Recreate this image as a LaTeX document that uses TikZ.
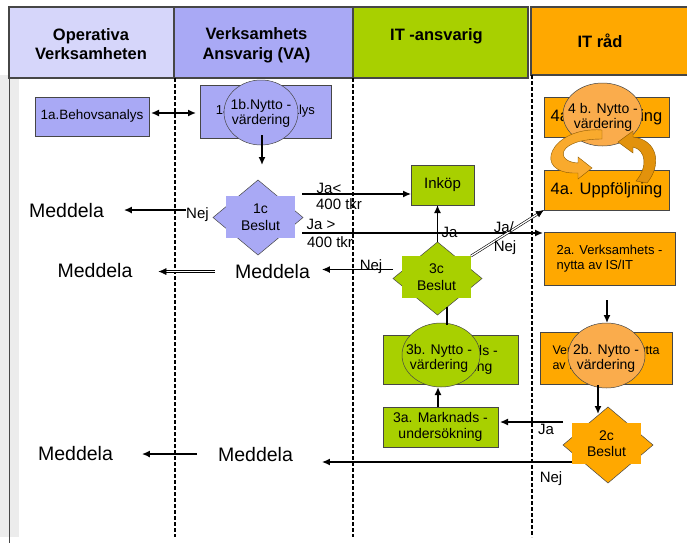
\documentclass[tikz,border=0pt]{standalone}
\usepackage{fontspec}
\setmainfont{Liberation Sans}
\usetikzlibrary{arrows.meta,shapes.geometric,shadows,calc}
\newcommand\fsz[2]{\fontsize{#1}{#2}\selectfont}

\definecolor{lavlight}{RGB}{214,214,250}
\definecolor{lav}{RGB}{169,169,245}
\definecolor{itgreen}{RGB}{168,208,0}
\definecolor{itorange}{RGB}{255,168,0}
\definecolor{lightorange}{RGB}{250,172,76}
\definecolor{stripgray}{RGB}{236,236,236}
\definecolor{edge}{RGB}{70,70,70}
\definecolor{loopL}{RGB}{249,170,45}
\definecolor{loopR}{RGB}{226,146,12}
\definecolor{loopedge}{RGB}{140,90,0}

\begin{document}
\begin{tikzpicture}[x=1pt,y=-1pt,
  every node/.style={inner sep=0pt, outer sep=0pt},
  head/.style={draw=edge, line width=1.2pt},
  htext/.style={font=\bfseries\fsz{16.5}{19.5}, align=center},
  box/.style={draw=edge, line width=.8pt, align=center,
    drop shadow={shadow xshift=1.2pt, shadow yshift=-1.2pt, fill=black!28, opacity=1}},
  ell/.style={ellipse, draw=gray!55!black, line width=.5pt},
  etext/.style={align=center, font=\fsz{14}{15}},
  dia/.style={diamond, draw=gray!55!black, line width=.5pt},
  dtext/.style={align=center, font=\fsz{14}{16.5}},
  lbl/.style={font=\fsz{15}{19}},
  med/.style={font=\fsz{19.5}{22}, anchor=base},
  arr/.style={line width=1.5pt, -{Latex[length=8pt,width=7pt]}},
  dblarr/.style={draw=black, line width=.6pt, double=white, double distance=1.3pt,
    -{Latex[length=8pt,width=7pt]}},
  lane/.style={line width=1.6pt, dash pattern=on 4pt off 2pt},
]
\path[use as bounding box, fill=white] (0,0) rectangle (687,549);

% left margin strip and frame line
\fill[stripgray] (0,75) rectangle (19,537);
\draw[edge, line width=.8pt] (9,7) -- (9,543);

% lane headers
\node[head, fill=lavlight, minimum width=165pt, minimum height=71pt] (h1) at (91.5,42.5) {};
\node[htext] (h1t) at (91,44) {Operativa\\Verksamheten};
\node[head, fill=lav, minimum width=179pt, minimum height=71pt] (h2) at (263.5,42.5) {};
\node[htext] (h2t) at (256.5,45.5) {Verksamhets\\Ansvarig (VA)};
\node[head, fill=itgreen, minimum width=175pt, minimum height=71pt] (h3) at (440.5,42.5) {};
\node[htext, anchor=base] (h3t) at (436.5,40) {IT -ansvarig};
\node[head, fill=itorange, minimum width=170pt, minimum height=68pt] (h4) at (616,41) {};
\node[htext, anchor=base] (h4t) at (600,47) {IT råd};

% lane separators
\draw[lane] ($(h2.south west)+(1,0)$) -- (175,537);
\draw[lane] (h3.south west) -- (353,537);
\draw[lane] ($(h4.south west)+(1,0)$) -- (532,537);

% ---- Verksamhetens lanes ----
\node[box, fill=lav, minimum width=114pt, minimum height=39pt, font=\fsz{13.5}{15}] (b1a) at (92,116.5) {1a.Behovsanalys};
\node[box, fill=lav, minimum width=131pt, minimum height=53pt, font=\fsz{13}{15}] (x1a) at (265.5,111.5) {1a.Behovsanalys};
\node[ell, fill=lav, minimum width=74pt, minimum height=65pt] (e1b) at (261,112.5) {};
\node[etext] (t1b) at (261,113) {1b.Nytto -\\värdering};

\node[dia, fill=lav, minimum width=90pt, minimum height=75pt] (d1c) at (258,217.5) {};
\node[fill=lav, minimum width=69pt, minimum height=42pt, dtext] (c1c) at (260.5,217) {1c\\Beslut};

\node[med] (med1) at (66.5,217) {Meddela};
\node[lbl, anchor=base] (nej1) at (197.5,218.5) {Nej};
\node[med] (med2l) at (95,277) {Meddela};
\node[med] (med2m) at (272.5,278.5) {Meddela};
\node[med] (med3l) at (75.5,460) {Meddela};
\node[med] (med3m) at (255.5,461) {Meddela};

% ---- IT-ansvarig lane ----
\node[box, fill=itgreen, minimum width=63pt, minimum height=40pt, font=\fsz{15}{17}] (inkop) at (442.5,185) {Inköp};
\node[dia, fill=itgreen, minimum width=89pt, minimum height=73pt] (d3c) at (437.5,278.5) {};
\node[fill=itgreen, minimum width=69pt, minimum height=42pt, dtext] (c3c) at (436.5,277) {3c\\Beslut};
\node[box, fill=itgreen, minimum width=135pt, minimum height=49pt, font=\fsz{14}{16}] (x3b) at (450.5,359.5) {3a. Marknads -\\undersökning};
\node[ell, fill=itgreen, minimum width=78pt, minimum height=64pt] (e3b) at (441,355) {};
\node[etext] (t3b) at (439,358) {3b. Nytto -\\värdering};
\node[box, fill=itgreen, minimum width=115pt, minimum height=40pt, font=\fsz{14}{16}] (b3a) at (440.5,427) {3a. Marknads -\\undersökning};

% ---- IT råd lane ----
\node[box, fill=itorange, minimum width=125pt, minimum height=40pt, font=\fsz{16.5}{18}] (x4a) at (606.5,117) {4a. Uppföljning};
\node[ell, fill=lightorange, minimum width=79pt, minimum height=63pt] (e4b) at (602.5,114.5) {};
\node[etext] (t4b) at (603,117.5) {4 b. Nytto -\\värdering};
\node[box, fill=itorange, minimum width=125pt, minimum height=40pt, font=\fsz{16.5}{18}] (u4a) at (606.5,190) {4a. Uppföljning};
\node[box, fill=itorange, minimum width=131pt, minimum height=53pt, align=left, font=\fsz{13}{15}] (b2a) at (609.5,258.5) {2a. Verksamhets -\\nytta av IS/IT};
\node[box, fill=itorange, minimum width=132pt, minimum height=52pt, align=left, font=\fsz{12.5}{15}] (x2b) at (606,358) {Verksamhets -nytta\\av IS/IT};
\node[ell, fill=lightorange, minimum width=77pt, minimum height=65pt] (e2b) at (606.5,355.5) {};
\node[etext] (t2b) at (606,358) {2b. Nytto -\\värdering};
\node[dia, fill=itorange, minimum width=90pt, minimum height=76pt] (d2c) at (608,445) {};
\node[fill=itorange, minimum width=69pt, minimum height=41pt, dtext] (c2c) at (606.5,443.5) {2c\\Beslut};

% follow-up cycle around 4b
\filldraw[fill=loopL, draw=loopedge, line width=.4pt]
  (602,130) .. controls (550,126) and (530,175) .. (578,173) -- (578,179) -- (592,168)
  -- (578,157) -- (578,163) .. controls (555,162) and (556,139) .. (602,139) -- cycle;
\filldraw[fill=loopR, draw=loopedge, line width=.4pt]
  (636,181) -- (647,183) .. controls (662,165) and (658,140) .. (633,137) -- (633,131)
  -- (618,142) -- (633,153) -- (633,147) .. controls (646,150) and (648,167) .. (636,181) -- cycle;

% ---- connectors ----
\draw[line width=1.5pt, {Latex[length=8pt,width=7pt]}-{Latex[length=8pt,width=7pt]}]
  ($(b1a.east)+(2,-3.5)$) -- ($(x1a.west)+(-4,1.5)$);
\draw[arr] ($(e1b.south)+(1,-10)$) -- ++(0,30);
\draw[arr, shorten >=20pt] (nej1.west |- med1.east) -- (med1.east);

\coordinate (ja1) at ($(d1c.east)+(-1,-23.5)$);
\draw[arr, line width=1.3pt] (ja1) -- (ja1 -| inkop.west);
\node[lbl, anchor=base] (ja1a) at (329,193) {Ja<};
\node[lbl, anchor=base] (ja1b) at (339,209) {400 tkr};

\coordinate (ja2) at ($(d1c.east)+(-1,15.5)$);
\draw[arr, shorten >=1pt] (ja2) -- (ja2 -| b2a.west);
\node[lbl, anchor=base] (ja2a) at (321,229) {Ja >};
\node[lbl, anchor=base] (ja2b) at (330,247) {400 tkr};

\coordinate (nej3) at ($(d3c.west)+(0,-9)$);
\draw[arr, line width=1.3pt, shorten >=12pt] (nej3) -- (nej3 -| med2m.east);
\node[lbl, anchor=base] (nej3l) at (371,270) {Nej};
\draw[dblarr, shorten <=20pt, shorten >=26pt] (med2m.west) -- (med2m.west -| med2l.east);

\draw[arr] (d3c.north) -- (d3c.north |- inkop.south);
\node[lbl, anchor=base] (ja3l) at (449.5,237) {Ja};
\draw[dblarr] (c3c.north east) -- (u4a.south west);
\node[lbl, align=left] (jn) at (505,238.5) {Ja/\\Nej};

\draw[line width=1.5pt] ($(e3b.north)+(6,2)$) -- ($(d3c.south)+(9.5,-8)$);
\draw[arr] ($(b3a.north)+(-2.5,0)$) -- ($(e3b.south)+(-3,0)$);

\draw[arr] ($(b2a.south)+(-2.5,15)$) -- ($(e2b.north)+(0.5,0)$);
\draw[arr] ($(e2b.south)+(-8.5,-3)$) -- ($(d2c.north)+(-10,7)$);

\coordinate (ja4) at ($(d2c.west)+(0,-23)$);
\draw[arr, line width=1.3pt, shorten >=2pt] (ja4) -- (ja4 -| b3a.east);
\node[lbl, anchor=base] (ja4l) at (546,434) {Ja};

\coordinate (nej2) at ($(c2c.south west)+(0,-2)$);
\draw[arr, shorten >=29pt] (nej2) -- (nej2 -| med3m.east);
\node[lbl, anchor=base] (nej2l) at (551,482) {Nej};
\draw[arr, shorten <=21pt, shorten >=29pt] (med3m.west) -- (med3m.west -| med3l.east);
\end{tikzpicture}
\end{document}
